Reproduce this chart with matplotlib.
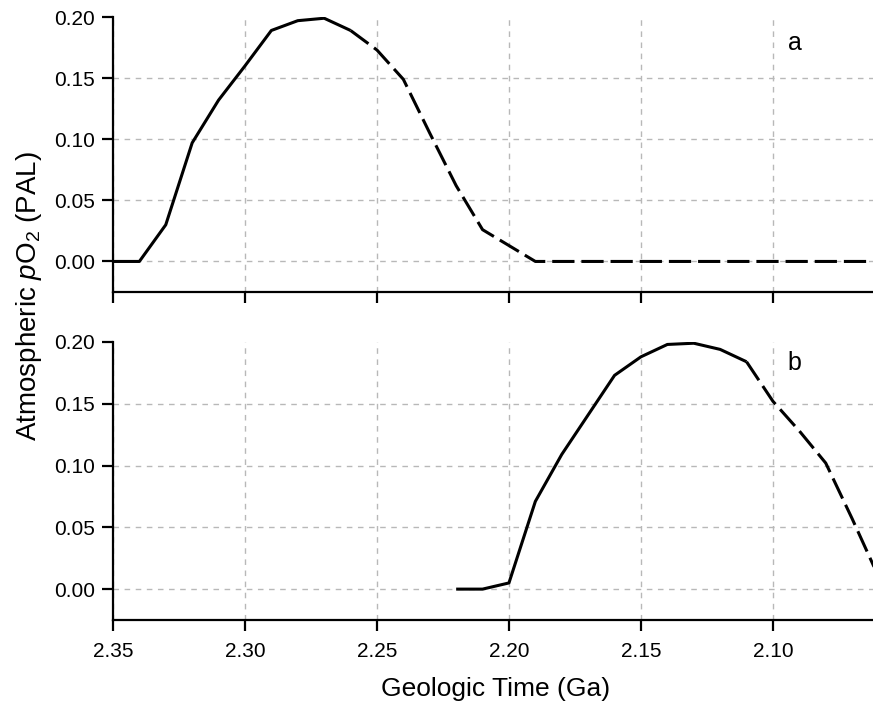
import matplotlib
matplotlib.use("Agg")
import matplotlib.pyplot as plt

plt.rcParams['font.family'] = ['Liberation Sans', 'DejaVu Sans']
plt.rcParams['mathtext.fontset'] = 'custom'
plt.rcParams['mathtext.rm'] = 'Liberation Sans'
plt.rcParams['mathtext.it'] = 'Liberation Sans:italic'
plt.rcParams['lines.scale_dashes'] = False

# panel a: solid (modelled) then dashed (extrapolated)
a_solid_t = [2.35, 2.34, 2.33, 2.32, 2.31, 2.30, 2.29, 2.28, 2.27, 2.26]
a_solid_o2 = [0.0, 0.0, 0.030, 0.097, 0.132, 0.160, 0.189, 0.197, 0.199, 0.189]
a_dash_t = [2.26, 2.25, 2.24, 2.23, 2.22, 2.21, 2.20, 2.19, 2.15, 2.10, 2.05]
a_dash_o2 = [0.189, 0.173, 0.149, 0.105, 0.062, 0.026, 0.013, 0.0, 0.0, 0.0, 0.0]

# panel b
b_solid_t = [2.22, 2.21, 2.20, 2.19, 2.18, 2.17, 2.16, 2.15, 2.14, 2.13, 2.12, 2.11]
b_solid_o2 = [0.0, 0.0, 0.005, 0.071, 0.109, 0.141, 0.173, 0.188, 0.198, 0.199, 0.194, 0.184]
b_dash_t = [2.11, 2.10, 2.09, 2.08, 2.07, 2.06]
b_dash_o2 = [0.184, 0.152, 0.128, 0.102, 0.057, 0.010]

xticks = [2.35, 2.30, 2.25, 2.20, 2.15, 2.10]
yticks = [0.00, 0.05, 0.10, 0.15, 0.20]

fig = plt.figure(figsize=(8.73, 7.06), dpi=100)
ax1 = fig.add_axes([0.1294, 0.5864, 0.8706, 0.3895])
ax2 = fig.add_axes([0.1294, 0.1218, 0.8706, 0.3938])

panels = [(ax1, a_solid_t, a_solid_o2, a_dash_t, a_dash_o2, 'a', 0.905),
          (ax2, b_solid_t, b_solid_o2, b_dash_t, b_dash_o2, 'b', 0.924)]

for ax, st, so, dt, do, lab, ly in panels:
    ax.plot(st, so, color='black', lw=2.2, solid_capstyle='butt', zorder=3)
    ax.plot(dt, do, color='black', lw=2.2, dashes=(16, 5), dash_capstyle='butt', zorder=3)
    ax.set_xlim(2.35, 2.0621)
    ax.set_ylim(-0.025, 0.20)
    ax.set_xticks(xticks)
    ax.set_yticks(yticks)
    ax.set_yticklabels(['%.2f' % v for v in yticks])
    ax.set_xticklabels(['%.2f' % v for v in xticks])
    ax.grid(True, color='#b8b8b8', lw=1.0, dashes=(4, 4))
    ax.yaxis.get_gridlines()[-1].set_visible(False)
    ax.set_axisbelow(True)
    for s in ['top', 'right']:
        ax.spines[s].set_visible(False)
    for s in ['left', 'bottom']:
        ax.spines[s].set_linewidth(1.6)
    ax.tick_params(direction='out', length=8, width=1.6, labelsize=15)
    ax.tick_params(axis='y', pad=5)
    ax.tick_params(axis='x', pad=8)
    ax.text(0.897, ly, lab, transform=ax.transAxes, fontsize=18, ha='center', va='center')

ax1.tick_params(axis='x', labelbottom=False)

fig.text(0.5676, 0.024, 'Geologic Time (Ga)', fontsize=19, ha='center', va='center')
fig.text(0.033, 0.581, r'Atmospheric $\it{p}$O$_2$ (PAL)', fontsize=20,
         rotation=90, ha='center', va='center')

fig.savefig('out.png', dpi=100)
